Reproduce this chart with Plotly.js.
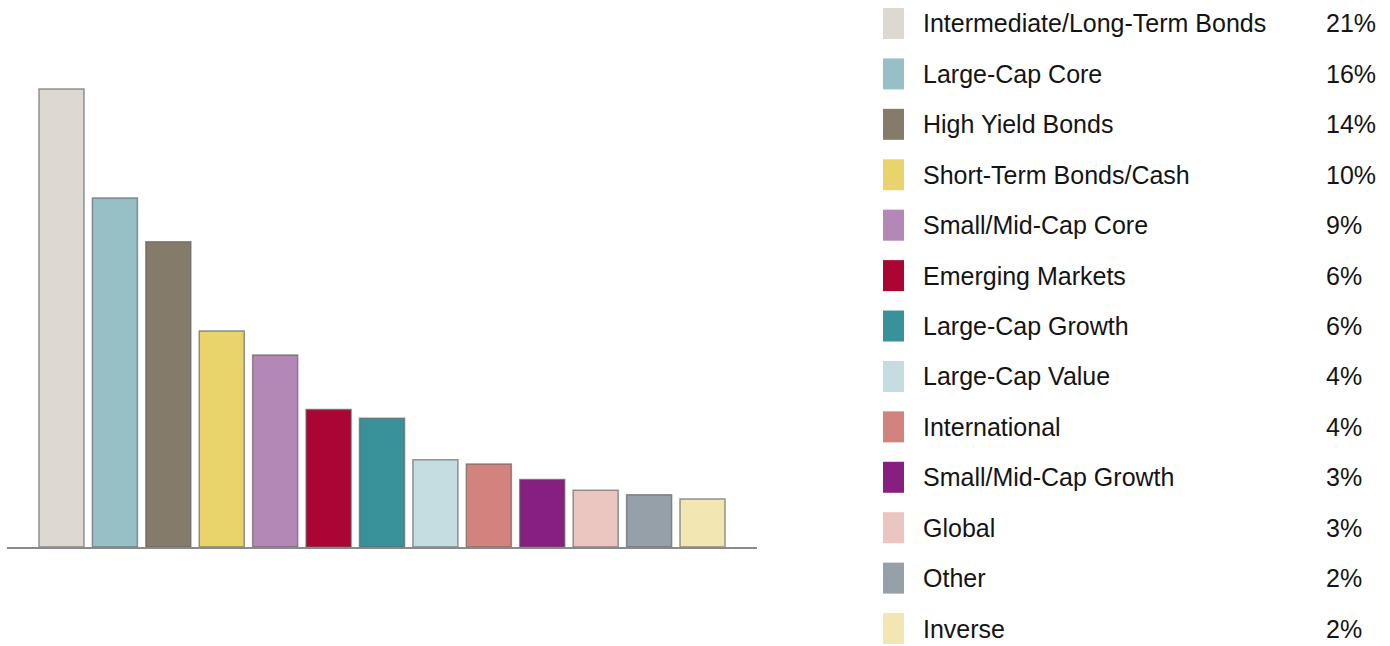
<!DOCTYPE html>
<html>
<head>
<meta charset="utf-8">
<script src="https://cdn.plot.ly/plotly-3.0.1.min.js"></script>
<style>
  html, body { margin: 0; padding: 0; background: #ffffff; }
  #chart { width: 1390px; height: 646px; }
</style>
</head>
<body>
<div id="chart"></div>
<script>
// Asset-class allocation, in percent of the portfolio
const categories = [
  "Intermediate/Long-Term Bonds",
  "Large-Cap Core",
  "High Yield Bonds",
  "Short-Term Bonds/Cash",
  "Small/Mid-Cap Core",
  "Emerging Markets",
  "Large-Cap Growth",
  "Large-Cap Value",
  "International",
  "Small/Mid-Cap Growth",
  "Global",
  "Other",
  "Inverse"
];
const allocation = [21.0, 16.0, 14.0, 9.9, 8.8, 6.3, 5.9, 4.0, 3.8, 3.1, 2.6, 2.4, 2.2];
const colors = [
  "#ddd9d2", "#97c0c6", "#857b6a", "#e8d46a", "#b387b6", "#ab0534", "#39929a",
  "#c5dde1", "#d3837e", "#861f80", "#ebc5c0", "#96a0a8", "#f2e6b3"
];
const pctLabels = allocation.map(v => Math.round(v) + "%");

const W = 1390, H = 646;
const FONT = "Liberation Sans, Arial, Helvetica, sans-serif";

const bars = {
  type: "bar",
  x: categories,
  y: allocation,
  marker: {
    color: colors,
    line: { color: "rgba(95,95,95,0.65)", width: 1.5 }
  },
  hoverinfo: "x+y",
  showlegend: false
};

// Key on the right: swatch, name, rounded share
const rowTop = 23.5, rowStep = 50.42;
const shapes = [];
const annotations = [];
categories.forEach((name, i) => {
  const cy = rowTop + i * rowStep;
  shapes.push({
    type: "rect", xref: "paper", yref: "paper",
    x0: 883 / W, x1: 904 / W,
    y0: 1 - (cy + 15.5) / H, y1: 1 - (cy - 15.5) / H,
    fillcolor: colors[i], line: { width: 0 }
  });
  annotations.push({
    xref: "paper", yref: "paper",
    x: 921 / W, y: 1 - cy / H,
    xanchor: "left", yanchor: "middle",
    text: name, showarrow: false,
    font: { family: FONT, size: 25, color: "#141414" }
  });
  annotations.push({
    xref: "paper", yref: "paper",
    x: 1324 / W, y: 1 - cy / H,
    xanchor: "left", yanchor: "middle",
    text: pctLabels[i], showarrow: false,
    font: { family: FONT, size: 25, color: "#141414" }
  });
});

const layout = {
  width: W, height: H,
  margin: { l: 0, r: 0, t: 0, b: 0, pad: 0 },
  paper_bgcolor: "#ffffff",
  plot_bgcolor: "#ffffff",
  bargap: 0.157,
  font: { family: FONT },
  xaxis: {
    domain: [7 / W, 757 / W],
    range: [-1.02, 13.02],
    showline: true, linecolor: "#8a8a8a", linewidth: 2,
    showticklabels: false, ticks: "", showgrid: false, zeroline: false,
    fixedrange: true
  },
  yaxis: {
    domain: [99 / H, 1],
    range: [0, 547 / 21.81],
    visible: false, showgrid: false, zeroline: false,
    fixedrange: true
  },
  shapes: shapes,
  annotations: annotations
};

Plotly.newPlot("chart", [bars], layout, { displayModeBar: false, staticPlot: true });
</script>
</body>
</html>
